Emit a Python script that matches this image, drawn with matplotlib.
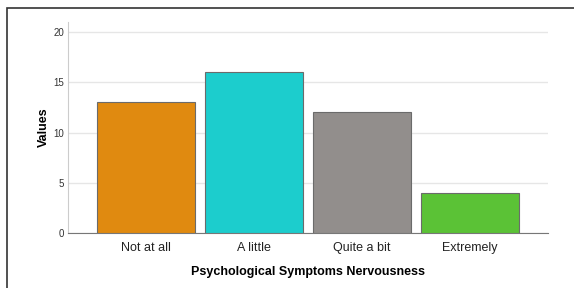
import matplotlib
matplotlib.use("Agg")
import matplotlib.pyplot as plt
from matplotlib.patches import Rectangle

categories = ["Not at all", "A little", "Quite a bit", "Extremely"]
values = [13, 16, 12, 4]
colors = ["#E08A10", "#1CCDCD", "#928E8C", "#5BC236"]
yticks = [0, 5, 10, 15, 20]

plt.rcParams['font.family'] = ['Liberation Sans', 'DejaVu Sans']

fig = plt.figure(figsize=(5.74, 2.88), dpi=100)
ax = fig.add_axes([68/574, 55/288, 480/574, 211/288])

x = list(range(len(categories)))
ax.bar(x, values, width=0.907, color=colors, edgecolor="#6b6b6b", linewidth=0.8, zorder=3)
ax.set_xlim(-0.722, 3.722)
ax.set_ylim(0, 21)
ax.set_yticks(yticks)
ax.set_yticklabels([str(t) for t in yticks], fontsize=7, color="#333333")
ax.set_xticks(x)
ax.set_xticklabels(categories, fontsize=9, color="#222222")
ax.tick_params(axis='both', length=0)
ax.tick_params(axis='y', pad=3)
ax.tick_params(axis='x', pad=6.5)
ax.grid(axis='y', color="#e6e6e6", linewidth=1, zorder=0)
for s in ["top", "right"]:
    ax.spines[s].set_visible(False)
ax.spines["left"].set_color("#cccccc")
ax.spines["bottom"].set_color("#777777")
ax.set_ylabel("Values", fontsize=9, fontweight="bold", labelpad=2.5)
ax.set_xlabel("Psychological Symptoms Nervousness", fontsize=9, fontweight="bold", labelpad=8.5)

fig.patches.append(Rectangle((7/574, -0.1), 1.2, (288-8)/288 + 0.1, transform=fig.transFigure,
                             fill=False, edgecolor="#333333", linewidth=1.2))

fig.savefig("out.png", dpi=100)
